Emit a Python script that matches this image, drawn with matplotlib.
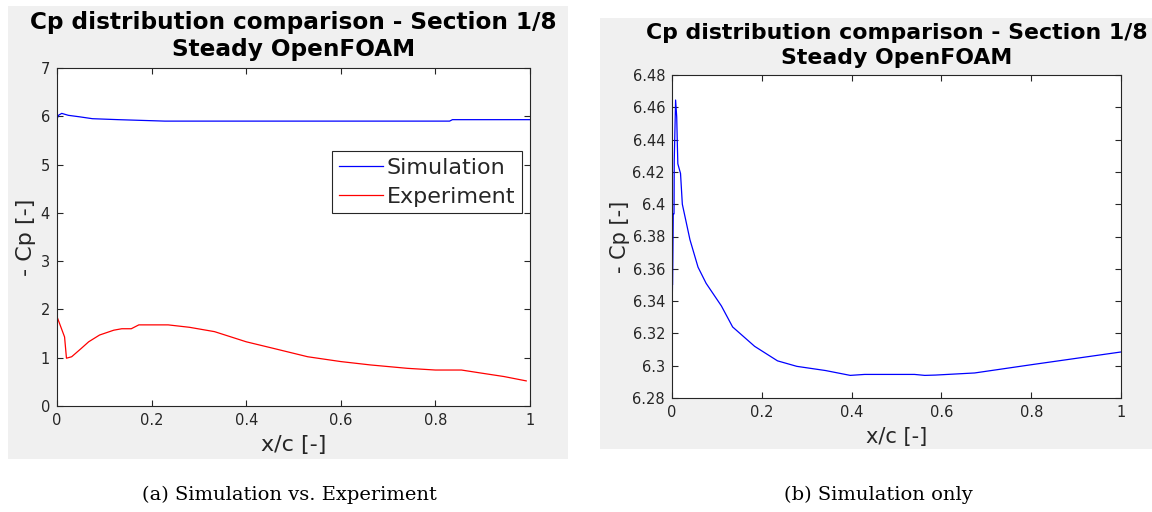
import matplotlib
matplotlib.use("Agg")
import matplotlib.pyplot as plt
from matplotlib.patches import Rectangle

# ---------------- data ----------------
sim_a_x = [0.0, 0.003, 0.010, 0.024, 0.047, 0.075, 0.13, 0.228, 0.50, 0.83, 0.836, 1.0]
sim_a_y = [5.94, 6.02, 6.06, 6.02, 5.99, 5.95, 5.93, 5.90, 5.90, 5.90, 5.93, 5.93]

exp_a_x = [0.0, 0.016, 0.020, 0.031, 0.051, 0.067, 0.09, 0.12, 0.137, 0.157, 0.173,
           0.235, 0.28, 0.333, 0.40, 0.459, 0.53, 0.60, 0.663, 0.741, 0.80, 0.855,
           0.898, 0.945, 0.992]
exp_a_y = [1.85, 1.43, 0.99, 1.02, 1.19, 1.33, 1.47, 1.57, 1.60, 1.60, 1.68,
           1.68, 1.63, 1.54, 1.33, 1.19, 1.02, 0.92, 0.85, 0.78, 0.745, 0.745,
           0.68, 0.61, 0.52]

sim_b_x = [0.0, 0.001, 0.0015, 0.001, 0.0015, 0.0045, 0.005, 0.008, 0.0105, 0.012,
           0.013, 0.019, 0.023, 0.040, 0.058, 0.076, 0.11, 0.135, 0.184, 0.235,
           0.278, 0.342, 0.397, 0.429, 0.54, 0.563, 0.587, 0.674, 0.80, 1.0]
sim_b_y = [6.326, 6.349, 6.394, 6.350, 6.394, 6.394, 6.427, 6.4645, 6.454, 6.436,
           6.425, 6.419, 6.400, 6.378, 6.361, 6.351, 6.337, 6.324, 6.312, 6.303,
           6.2996, 6.297, 6.294, 6.2946, 6.2946, 6.294, 6.2942, 6.2955, 6.3006, 6.3085]

title_lines = ["Cp distribution comparison - Section 1/8", "Steady OpenFOAM"]
xlabel = "x/c [-]"
ylabel = "- Cp [-]"
legend_labels = ["Simulation", "Experiment"]
captions = ["(a) Simulation vs. Experiment", "(b) Simulation only"]
xticks = [0, 0.2, 0.4, 0.6, 0.8, 1]
xticklabels = ["0", "0.2", "0.4", "0.6", "0.8", "1"]
yticks_a = [0, 1, 2, 3, 4, 5, 6, 7]
yticks_b = [6.28, 6.30, 6.32, 6.34, 6.36, 6.38, 6.40, 6.42, 6.44, 6.46, 6.48]
yticklabels_b = ["6.28", "6.3", "6.32", "6.34", "6.36", "6.38", "6.4", "6.42", "6.44", "6.46", "6.48"]

# ---------------- layout ----------------
W, H = 1152, 512
fig = plt.figure(figsize=(W / 100, H / 100), dpi=100)
fig.patch.set_facecolor("white")

def px_rect(x0, y0, x1, y1):
    return [x0 / W, 1 - y1 / H, (x1 - x0) / W, (y1 - y0) / H]

GRAY = "#f0f0f0"
DARK = "#262626"

# gray figure backgrounds (drawn in a background axes)
bg = fig.add_axes([0, 0, 1, 1], zorder=-10)
bg.set_xlim(0, W)
bg.set_ylim(H, 0)
bg.axis("off")
for (x0, y0, x1, y1) in [(8, 6, 568, 459), (600, 18, 1152, 449)]:
    bg.add_patch(Rectangle((x0, y0), x1 - x0, y1 - y0, facecolor=GRAY, edgecolor="none"))

def style_axes(ax, tick_fs):
    for s in ax.spines.values():
        s.set_color(DARK)
        s.set_linewidth(0.8)
    ax.tick_params(direction="in", length=4, width=0.8, colors=DARK,
                   labelsize=tick_fs, top=True, right=True, pad=5)
    ax.set_facecolor("white")

# Panel (a)
axa = fig.add_axes(px_rect(57, 68, 530, 406))
axa.plot(sim_a_x, sim_a_y, color="blue", lw=0.9, label=legend_labels[0])
axa.plot(exp_a_x, exp_a_y, color="red", lw=0.9, label=legend_labels[1])
axa.set_xlim(0, 1)
axa.set_ylim(0, 7)
axa.set_xticks(xticks)
axa.set_xticklabels(xticklabels)
axa.set_yticks(yticks_a)
style_axes(axa, 10.5)
axa.set_title("\n".join(title_lines), fontsize=16.7, fontweight="bold", color="black",
              pad=8.6, linespacing=1.2)
axa.set_xlabel(xlabel, fontsize=16, color=DARK, labelpad=5)
axa.set_ylabel(ylabel, fontsize=16, color=DARK, labelpad=3.5)
leg = axa.legend(loc="upper right", bbox_to_anchor=(0.983, 0.754), borderaxespad=0,
                 fontsize=16, fancybox=False, edgecolor=DARK, framealpha=1,
                 handlelength=2.0, handletextpad=0.15, labelspacing=0.4,
                 borderpad=0.3)
leg.get_frame().set_linewidth(0.8)
for t in leg.get_texts():
    t.set_color(DARK)

# Panel (b)
axb = fig.add_axes(px_rect(672, 75, 1121, 398))
axb.plot(sim_b_x, sim_b_y, color="blue", lw=0.9)
axb.set_xlim(0, 1)
axb.set_ylim(6.28, 6.48)
axb.set_xticks(xticks)
axb.set_xticklabels(xticklabels)
axb.set_yticks(yticks_b)
axb.set_yticklabels(yticklabels_b)
style_axes(axb, 10.5)
axb.set_title("\n".join(title_lines), fontsize=15.8, fontweight="bold", color="black",
              pad=8, linespacing=1.3)
axb.set_xlabel(xlabel, fontsize=15, color=DARK, labelpad=5)
axb.set_ylabel(ylabel, fontsize=15, color=DARK, labelpad=2)

# captions
fig.text(289 / W, 1 - 495 / H, captions[0], ha="center", va="center",
         fontsize=14, family="DejaVu Serif", color="black")
fig.text(878 / W, 1 - 495 / H, captions[1], ha="center", va="center",
         fontsize=14, family="DejaVu Serif", color="black")

fig.savefig("out.png", dpi=100, facecolor="white")
